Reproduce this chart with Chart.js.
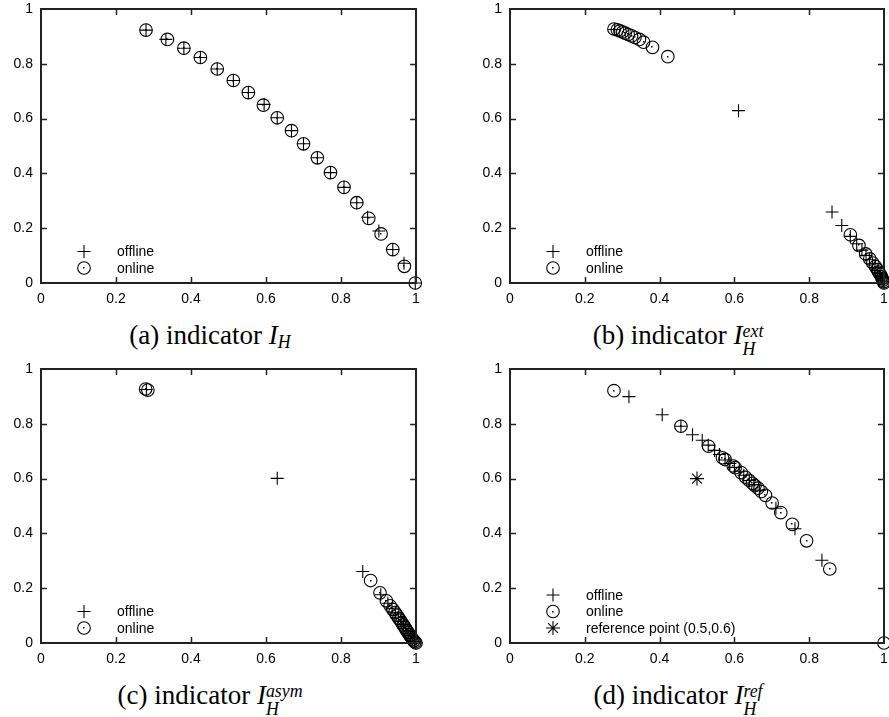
<!DOCTYPE html>
<html>
<head>
<meta charset="utf-8">
<script src="https://cdn.jsdelivr.net/npm/chart.js@4.4.1/dist/chart.umd.min.js"></script>
<style>
body { margin:0; background:#fff; width:889px; height:717px; position:relative; overflow:hidden; }
canvas { position:absolute; }
.cap { position:absolute; width:320px; text-align:center; font-family:'Liberation Serif', serif; font-size:27px; line-height:1; white-space:nowrap; color:#000; }
.cap i { font-style:italic; }
.sub { font-size:0.66em; font-style:italic; position:relative; top:0.25em; }
.ss { display:inline-flex; flex-direction:column; vertical-align:7px; font-size:0.66em; line-height:1.0; font-style:italic; text-align:left; }
</style>
</head>
<body>
<canvas id="pa" width="430" height="310" style="left:0;top:0"></canvas>
<canvas id="pb" width="430" height="310" style="left:469px;top:0"></canvas>
<canvas id="pc" width="430" height="310" style="left:0;top:360px"></canvas>
<canvas id="pd" width="430" height="310" style="left:469px;top:360px"></canvas>
<div class="cap" style="left:50px;top:322px">(a) indicator <i>I</i><span class="sub">H</span></div>
<div class="cap" style="left:518px;top:322px">(b) indicator <i>I</i><span class="ss"><span>ext</span><span>H</span></span></div>
<div class="cap" style="left:50px;top:682px">(c) indicator <i>I</i><span class="ss"><span>asym</span><span>H</span></span></div>
<div class="cap" style="left:518px;top:682px">(d) indicator <i>I</i><span class="ss"><span>ref</span><span>H</span></span></div>
<script>
// axis ticks (same for every panel)
const tickValues = [0, 0.2, 0.4, 0.6, 0.8, 1];
const seriesNames = ['offline', 'online', 'reference point (0.5,0.6)'];

// (a) indicator I_H
const offlineA = [[0.280,0.923],[0.333,0.889],[0.381,0.857],[0.425,0.823],[0.470,0.781],[0.513,0.739],[0.553,0.695],[0.595,0.652],[0.630,0.603],[0.668,0.556],[0.700,0.508],[0.737,0.457],[0.772,0.403],[0.808,0.349],[0.842,0.293],[0.871,0.240],[0.901,0.190],[0.938,0.122],[0.968,0.072],[0.998,0.000]];
const onlineA = [[0.280,0.923],[0.337,0.889],[0.381,0.857],[0.425,0.823],[0.470,0.781],[0.513,0.739],[0.553,0.695],[0.593,0.649],[0.630,0.603],[0.668,0.556],[0.700,0.508],[0.737,0.457],[0.772,0.403],[0.808,0.349],[0.842,0.293],[0.874,0.236],[0.907,0.179],[0.938,0.122],[0.969,0.061],[0.998,0.000]];

// (b) indicator I_H^ext
const offlineB = [[0.280,0.925],[0.611,0.629],[0.861,0.259],[0.887,0.210],[0.910,0.170],[0.927,0.143],[0.941,0.120],[0.952,0.101],[0.961,0.085],[0.969,0.070],[0.976,0.057],[0.982,0.045],[0.987,0.034],[0.991,0.024],[0.995,0.015],[0.998,0.007],[1.000,0.000]];
const onlineB = [[0.278,0.927],[0.287,0.924],[0.294,0.920],[0.301,0.916],[0.308,0.912],[0.316,0.907],[0.325,0.902],[0.334,0.896],[0.346,0.889],[0.357,0.879],[0.381,0.860],[0.422,0.826],[0.910,0.176],[0.933,0.137],[0.951,0.106],[0.962,0.088],[0.970,0.073],[0.977,0.060],[0.982,0.049],[0.986,0.040],[0.990,0.031],[0.993,0.023],[0.995,0.016],[0.997,0.010],[0.999,0.005],[1.000,0.000]];

// (c) indicator I_H^asym
const offlineC = [[0.281,0.925],[0.630,0.601],[0.858,0.261],[0.906,0.176],[0.925,0.145],[0.936,0.127],[0.945,0.110],[0.953,0.094],[0.960,0.080],[0.967,0.067],[0.973,0.054],[0.979,0.041],[0.985,0.028],[0.991,0.016],[0.996,0.006],[1.000,0.000]];
const onlineC = [[0.279,0.927],[0.285,0.923],[0.879,0.228],[0.904,0.183],[0.921,0.154],[0.931,0.136],[0.938,0.123],[0.944,0.111],[0.949,0.101],[0.954,0.091],[0.958,0.083],[0.962,0.074],[0.966,0.066],[0.970,0.058],[0.973,0.051],[0.976,0.044],[0.979,0.038],[0.982,0.031],[0.985,0.025],[0.988,0.019],[0.991,0.013],[0.994,0.008],[0.997,0.004],[1.000,0.000]];

// (d) indicator I_H^ref
const offlineD = [[0.318,0.899],[0.407,0.833],[0.457,0.791],[0.488,0.760],[0.514,0.740],[0.530,0.722],[0.547,0.703],[0.560,0.688],[0.575,0.668],[0.588,0.655],[0.600,0.641],[0.613,0.627],[0.625,0.612],[0.640,0.593],[0.652,0.578],[0.667,0.558],[0.711,0.492],[0.762,0.417],[0.834,0.302]];
const onlineD = [[0.278,0.921],[0.457,0.791],[0.531,0.718],[0.568,0.676],[0.575,0.670],[0.597,0.646],[0.602,0.640],[0.618,0.622],[0.630,0.605],[0.639,0.594],[0.648,0.583],[0.655,0.574],[0.663,0.565],[0.672,0.553],[0.683,0.539],[0.701,0.511],[0.724,0.476],[0.755,0.433],[0.793,0.373],[0.855,0.270],[1.000,0.000]];
const refPointD = [[0.5,0.6]];

const pts = arr => arr.map(p => ({x: p[0], y: p[1]}));

function set(label, arr, style, r) {
  return {
    label: label,
    data: pts(arr),
    pointStyle: style,
    pointRadius: r,
    pointHoverRadius: r,
    borderColor: '#000',
    backgroundColor: 'rgba(0,0,0,0)',
    pointBorderWidth: 1.1,
    showLine: false,
    clip: false,
  };
}

// gnuplot look: dot inside circles, box + inward ticks, legend lower left
const gnuFrame = {
  id: 'gnuFrame',
  afterDatasetsDraw(chart) {
    const {ctx, chartArea: a, scales} = chart;
    const sets = chart.data.datasets;
    ctx.save();
    ctx.fillStyle = '#000';
    sets.forEach((ds, i) => {
      if (ds.pointStyle !== 'circle') return;
      chart.getDatasetMeta(i).data.forEach(el => {
        ctx.fillRect(Math.round(el.x) - 1, Math.round(el.y) - 1, 1.5, 1.5);
      });
    });

    ctx.strokeStyle = '#222';
    ctx.lineWidth = 1.5;
    ctx.beginPath();
    tickValues.slice(1, -1).forEach(v => {
      const px = Math.round(scales.x.getPixelForValue(v)) + 0.5;
      const py = Math.round(scales.y.getPixelForValue(v)) + 0.5;
      ctx.moveTo(px, a.bottom); ctx.lineTo(px, a.bottom - 6);
      ctx.moveTo(px, a.top); ctx.lineTo(px, a.top + 6);
      ctx.moveTo(a.left, py); ctx.lineTo(a.left + 6, py);
      ctx.moveTo(a.right, py); ctx.lineTo(a.right - 6, py);
    });
    ctx.stroke();
    ctx.lineWidth = 2;
    ctx.strokeRect(a.left, a.top, a.right - a.left, a.bottom - a.top);

    ctx.font = '14px "Liberation Sans", Arial, sans-serif';
    ctx.textBaseline = 'middle';
    ctx.strokeStyle = '#000';
    ctx.lineWidth = 1.1;
    sets.forEach((ds, i) => {
      const x = a.left + 43;
      const y = a.bottom - 15 - 16.5 * (sets.length - 1 - i);
      ctx.fillStyle = 'rgba(0,0,0,0)';
      Chart.helpers.drawPoint(ctx, {pointStyle: ds.pointStyle, radius: ds.pointRadius, borderWidth: 1.1, rotation: 0}, x, y);
      ctx.fillStyle = '#000';
      if (ds.pointStyle === 'circle') ctx.fillRect(Math.round(x) - 1, Math.round(y) - 1, 1.5, 1.5);
      ctx.fillText(ds.label, a.left + 76, y + 1);
    });
    ctx.restore();
  }
};

const fmt = v => String(Number(v.toFixed(1)));

function makeChart(id, datasets, padRight) {
  const font = {family: '"Liberation Sans", Arial, sans-serif', size: 14};
  new Chart(document.getElementById(id), {
    type: 'scatter',
    data: {datasets: datasets},
    plugins: [gnuFrame],
    options: {
      responsive: false,
      animation: false,
      devicePixelRatio: 1,
      layout: {padding: {top: 9, right: padRight, left: 0, bottom: 0}},
      plugins: {legend: {display: false}, tooltip: {enabled: false}},
      scales: {
        x: {
          type: 'linear', min: 0, max: 1,
          afterBuildTicks: s => { s.ticks = tickValues.map(v => ({value: v})); },
          ticks: {color: '#000', font: font, padding: 8, maxRotation: 0, autoSkip: false, callback: fmt},
          grid: {display: false, drawTicks: false},
          border: {display: false},
          afterFit: s => { s.height = 27; s.paddingLeft = 0; s.paddingRight = 0; }
        },
        y: {
          type: 'linear', min: 0, max: 1,
          afterBuildTicks: s => { s.ticks = tickValues.map(v => ({value: v})); },
          ticks: {color: '#000', font: font, padding: 8, autoSkip: false, callback: fmt},
          grid: {display: false, drawTicks: false},
          border: {display: false},
          afterFit: s => { s.width = 41; s.paddingTop = 0; s.paddingBottom = 0; }
        }
      }
    }
  });
}

makeChart('pa', [set(seriesNames[0], offlineA, 'cross', 6.5), set(seriesNames[1], onlineA, 'circle', 6.3)], 14);
makeChart('pb', [set(seriesNames[0], offlineB, 'cross', 6.5), set(seriesNames[1], onlineB, 'circle', 6.3)], 15);
makeChart('pc', [set(seriesNames[0], offlineC, 'cross', 6.5), set(seriesNames[1], onlineC, 'circle', 6.3)], 14);
makeChart('pd', [set(seriesNames[0], offlineD, 'cross', 6.5), set(seriesNames[1], onlineD, 'circle', 6.3), set(seriesNames[2], refPointD, 'star', 7)], 15);
</script>
</body>
</html>
